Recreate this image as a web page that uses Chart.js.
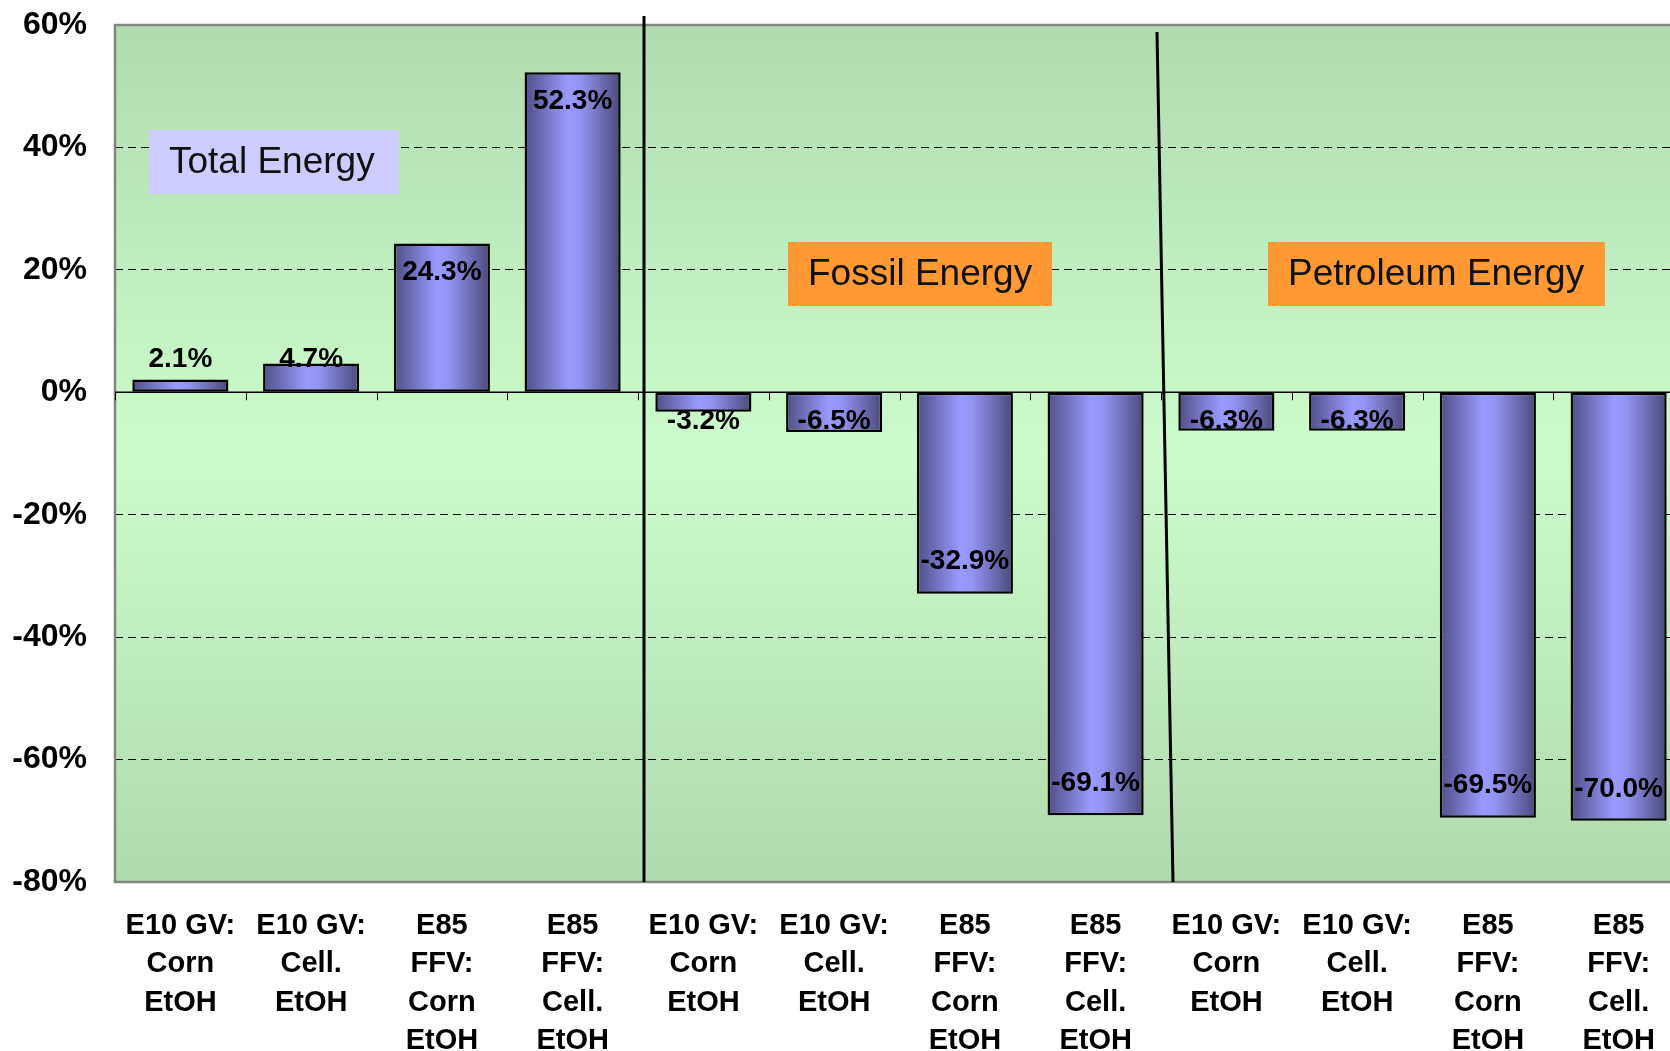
<!DOCTYPE html>
<html>
<head>
<meta charset="utf-8">
<script src="https://cdn.jsdelivr.net/npm/chart.js"></script>
<style>
  html, body { margin: 0; padding: 0; background: #fff; overflow: hidden; }
  #wrap { position: absolute; left: 0; top: 0; width: 1690px; height: 1051px; }
</style>
</head>
<body>
<div id="wrap"><canvas id="energyChart"></canvas></div>
<script>
// data
const categories = [
    ["E10 GV:", "Corn", "EtOH"], ["E10 GV:", "Cell.", "EtOH"],
    ["E85", "FFV:", "Corn", "EtOH"], ["E85", "FFV:", "Cell.", "EtOH"],
    ["E10 GV:", "Corn", "EtOH"], ["E10 GV:", "Cell.", "EtOH"],
    ["E85", "FFV:", "Corn", "EtOH"], ["E85", "FFV:", "Cell.", "EtOH"],
    ["E10 GV:", "Corn", "EtOH"], ["E10 GV:", "Cell.", "EtOH"],
    ["E85", "FFV:", "Corn", "EtOH"], ["E85", "FFV:", "Cell.", "EtOH"]
];
const changeValues = [2.1, 4.7, 24.3, 52.3, -3.2, -6.5, -32.9, -69.1, -6.3, -6.3, -69.5, -70.0];
const yMin = -80, yMax = 60, yStep = 20;
const groupLabels = ["Total Energy", "Fossil Energy", "Petroleum Energy"];

// text boxes and divider lines (page pixels)
const groupBoxes = [
    { x: 149, y: 130, w: 250, h: 64, fill: "#ccccff" },
    { x: 788, y: 242, w: 264, h: 64, fill: "#ff9933" },
    { x: 1268, y: 242, w: 337, h: 64, fill: "#ff9933" }
];
const dividers = [
    { x1: 644, y1: 16, x2: 644, y2: 882 },
    { x1: 1157, y1: 32, x2: 1173, y2: 882 }
];

const BAR_PCT = 0.735;
const FONT = "'Liberation Sans', Arial, sans-serif";

function barFill(ctx) {
    const chart = ctx.chart;
    const xs = chart.scales.x;
    if (!chart.chartArea || !xs) return "#9999ff";
    const cx = xs.getPixelForValue(ctx.dataIndex);
    const half = xs.width / categories.length * BAR_PCT / 2;
    const g = chart.ctx.createLinearGradient(cx - half, 0, cx + half, 0);
    g.addColorStop(0, "#4f4f86");
    g.addColorStop(0.45, "#9a9aff");
    g.addColorStop(0.58, "#9393f3");
    g.addColorStop(1, "#4a4a7b");
    return g;
}

const plotDecor = {
    id: "plotDecor",
    beforeDraw(chart) {
        const { ctx, chartArea: a } = chart;
        const g = ctx.createLinearGradient(0, a.top, 0, a.bottom);
        g.addColorStop(0, "#b0dbae");
        g.addColorStop(0.5, "#ccfccc");
        g.addColorStop(1, "#afdaad");
        ctx.save();
        ctx.fillStyle = g;
        ctx.fillRect(a.left, a.top, a.right - a.left, a.bottom - a.top);
        ctx.restore();
    },
    beforeDatasetsDraw(chart) {
        const { ctx, chartArea: a, scales } = chart;
        const y0 = scales.y.getPixelForValue(0);
        ctx.save();
        // plot frame
        ctx.strokeStyle = "#848484";
        ctx.lineWidth = 2.5;
        ctx.beginPath();
        ctx.moveTo(a.right + 5, a.top);
        ctx.lineTo(a.left, a.top);
        ctx.lineTo(a.left, a.bottom);
        ctx.lineTo(a.right + 5, a.bottom);
        ctx.stroke();
        // zero axis with tick marks
        ctx.strokeStyle = "#000";
        ctx.lineWidth = 1.5;
        ctx.beginPath();
        ctx.moveTo(a.left, y0);
        ctx.lineTo(a.right, y0);
        ctx.stroke();
        ctx.lineWidth = 1;
        ctx.beginPath();
        for (let i = 0; i <= categories.length; i++) {
            const x = Math.round(scales.x.getPixelForValue(i - 0.5)) + 0.5;
            ctx.moveTo(x, y0);
            ctx.lineTo(x, y0 + 8);
        }
        ctx.stroke();
        ctx.restore();
    },
    afterDatasetsDraw(chart) {
        const { ctx } = chart;
        const meta = chart.getDatasetMeta(0);
        ctx.save();
        // value labels
        ctx.fillStyle = "#000";
        ctx.font = "bold 28px " + FONT;
        ctx.textAlign = "center";
        ctx.textBaseline = "middle";
        meta.data.forEach((bar, i) => {
            const v = changeValues[i];
            let y;
            if (v >= 0) y = Math.min(bar.y + 29, bar.base - 33);
            else y = Math.max(bar.y - 32, bar.base + 28);
            ctx.fillText(v.toFixed(1) + "%", bar.x, y);
        });
        // dividers
        ctx.strokeStyle = "#000";
        ctx.lineWidth = 3;
        dividers.forEach(d => {
            ctx.beginPath();
            ctx.moveTo(d.x1, d.y1);
            ctx.lineTo(d.x2, d.y2);
            ctx.stroke();
        });
        // group text boxes
        ctx.font = "37px " + FONT;
        ctx.textAlign = "left";
        groupBoxes.forEach((b, i) => {
            ctx.fillStyle = b.fill;
            ctx.fillRect(b.x, b.y, b.w, b.h);
            ctx.fillStyle = "#111";
            ctx.fillText(groupLabels[i], b.x + 20, b.y + b.h / 2 + 1);
        });
        ctx.restore();
    }
};

new Chart(document.getElementById("energyChart"), {
    type: "bar",
    data: {
        labels: categories,
        datasets: [{
            data: changeValues,
            backgroundColor: barFill,
            borderColor: "#000",
            borderWidth: 2.5,
            borderSkipped: false,
            barPercentage: BAR_PCT,
            categoryPercentage: 1
        }]
    },
    options: {
        responsive: true,
        maintainAspectRatio: false,
        animation: false,
        devicePixelRatio: 1,
        layout: { padding: { top: 25, right: 6, left: 0, bottom: 0 } },
        plugins: { legend: { display: false }, tooltip: { enabled: false } },
        scales: {
            x: {
                grid: { display: false },
                border: { display: false },
                ticks: {
                    color: "#000",
                    font: { family: FONT, size: 29, weight: "bold", lineHeight: 1.32 },
                    padding: 17,
                    maxRotation: 0,
                    autoSkip: false
                },
                afterFit(scale) {
                    scale.height = 169;
                    scale.paddingLeft = 0;
                    scale.paddingRight = 0;
                }
            },
            y: {
                min: yMin,
                max: yMax,
                grid: {
                    drawTicks: false,
                    lineWidth: 1,
                    color: c => (c.tick.value === 0 || c.tick.value === yMax || c.tick.value === yMin) ? "rgba(0,0,0,0)" : "#000"
                },
                border: { display: false, dash: [8, 5] },
                ticks: {
                    stepSize: yStep,
                    color: "#000",
                    font: { family: FONT, size: 32, weight: "bold" },
                    padding: 28,
                    callback: v => v + "%"
                },
                afterFit(scale) {
                    scale.width = 115;
                    scale.paddingTop = 0;
                    scale.paddingBottom = 0;
                }
            }
        }
    },
    plugins: [plotDecor]
});
</script>
</body>
</html>
